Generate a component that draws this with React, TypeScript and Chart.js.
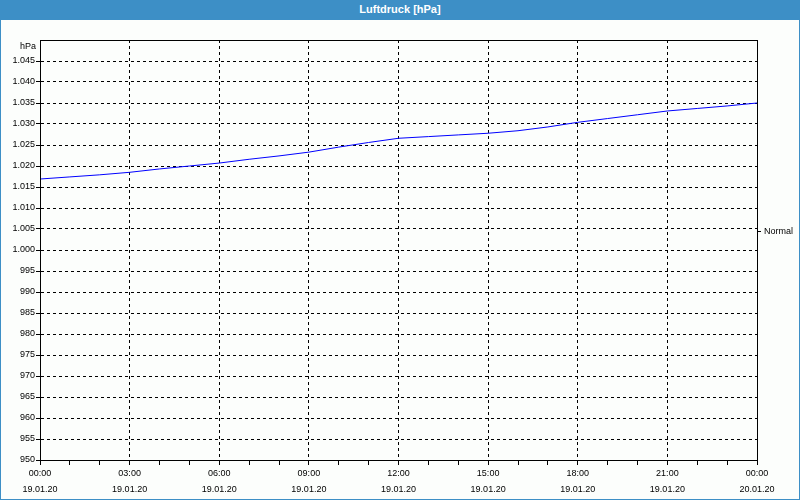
import React, { useEffect, useRef } from "react";
import { Chart, registerables } from "chart.js";

Chart.register(...registerables);

// hours since 19.01.20 00:00
const hours = [0, 1, 2, 3, 4, 5, 6, 7, 8, 9, 10, 11, 12, 13, 14, 15, 16, 17, 18, 19, 20, 21, 22, 23, 24];
const pressure = [
  1016.9, 1017.4, 1017.9, 1018.5, 1019.3, 1020.0, 1020.7, 1021.6, 1022.4, 1023.3, 1024.5, 1025.6, 1026.6,
  1027.0, 1027.4, 1027.8, 1028.4, 1029.3, 1030.4, 1031.3, 1032.2, 1033.1, 1033.7, 1034.3, 1035.0,
];
const timeLabels = ["00:00", "03:00", "06:00", "09:00", "12:00", "15:00", "18:00", "21:00", "00:00"];
const dateLabels = ["19.01.20", "19.01.20", "19.01.20", "19.01.20", "19.01.20", "19.01.20", "19.01.20", "19.01.20", "20.01.20"];
const yMin = 950;
const yMax = 1050;
const yStep = 5;
const unitLabel = "hPa";
const normalLevel = 1004.4;
const normalLabel = "Normal";
const titleText = "Luftdruck [hPa]";

const FONT = "'Liberation Sans', Arial, sans-serif";
const BLUE = "#3d8fc6";

function fmtY(v: number): string {
  const r = Math.round(v);
  if (r >= 1000) return "1." + String(r - 1000).padStart(3, "0");
  return String(r);
}

const framePlugin = {
  id: "frame",
  afterDraw(chart: any) {
    const { ctx, chartArea } = chart;
    const l = Math.round(chartArea.left) + 0.5;
    const t = Math.round(chartArea.top) + 0.5;
    const r = Math.round(chartArea.right) + 0.5;
    const b = Math.round(chartArea.bottom) + 0.5;
    ctx.save();
    ctx.strokeStyle = "#000";
    ctx.lineWidth = 1;
    ctx.setLineDash([]);
    ctx.beginPath();
    ctx.moveTo(l, b);
    ctx.lineTo(l, t);
    ctx.lineTo(r, t);
    ctx.lineTo(r, b);
    ctx.stroke();
    ctx.restore();
  },
};

export default function App() {
  const ref = useRef<HTMLCanvasElement | null>(null);

  useEffect(() => {
    if (!ref.current) return;
    const data = hours.map((h, i) => ({ x: h, y: pressure[i] }));
    const chart = new Chart(ref.current, {
      type: "line",
      data: {
        datasets: [
          {
            data,
            borderColor: "#0000ff",
            borderWidth: 1,
            pointRadius: 0,
            tension: 0,
            fill: false,
          },
        ],
      },
      options: {
        animation: false,
        responsive: false,
        maintainAspectRatio: false,
        layout: { padding: { top: 20, left: 0, right: 0, bottom: 0 } },
        plugins: { legend: { display: false }, tooltip: { enabled: false }, title: { display: false } },
        scales: {
          x: {
            type: "linear",
            min: 0,
            max: 24,
            afterFit: (s: any) => {
              s.height = 39;
            },
            ticks: {
              stepSize: 1,
              autoSkip: false,
              maxRotation: 0,
              color: "#000",
              padding: 1,
              font: { family: FONT, size: 9, lineHeight: 1.75 },
              callback: (v: any) => {
                const n = Math.round(Number(v));
                return n % 3 === 0 ? [timeLabels[n / 3], dateLabels[n / 3]] : "";
              },
            },
            grid: {
              color: (c: any) => (c.tick && Math.round(c.tick.value) % 3 === 0 ? "#000" : "rgba(0,0,0,0)"),
              tickColor: "#000",
              tickLength: 5,
              lineWidth: 1,
            },
            border: { display: true, color: "#000", dash: [3, 3] },
          },
          y: {
            type: "linear",
            position: "left",
            min: yMin,
            max: yMax,
            afterFit: (s: any) => {
              s.width = 39;
            },
            ticks: {
              stepSize: yStep,
              autoSkip: false,
              color: "#000",
              padding: 1,
              font: { family: FONT, size: 9 },
              callback: (v: any) => (Math.round(Number(v)) === yMax ? "" : fmtY(Number(v))),
            },
            grid: {
              color: (c: any) => (c.tick && Math.round(c.tick.value) === yMax ? "rgba(0,0,0,0)" : "#000"),
              tickColor: (c: any) => (c.tick && Math.round(c.tick.value) === yMax ? "rgba(0,0,0,0)" : "#000"),
              tickLength: 4,
              lineWidth: 1,
            },
            border: { display: true, color: "#000", dash: [3, 3] },
          },
          y2: {
            type: "linear",
            position: "right",
            min: yMin,
            max: yMax,
            afterFit: (s: any) => {
              s.width = 42;
            },
            afterBuildTicks: (s: any) => {
              s.ticks = [{ value: normalLevel }];
            },
            ticks: {
              autoSkip: false,
              color: "#000",
              padding: 3,
              font: { family: FONT, size: 9 },
              callback: () => normalLabel,
            },
            grid: { drawOnChartArea: false, tickColor: "#000", tickLength: 4 },
            border: { display: true, color: "#000" },
          },
        },
      },
      plugins: [framePlugin],
    } as any);
    return () => chart.destroy();
  }, []);

  return (
    <div style={{ position: "absolute", left: 0, top: 0, width: 800, height: 500, background: BLUE }}>
      <div
        style={{
          position: "absolute",
          left: 0,
          top: 0,
          width: 800,
          height: 20,
          lineHeight: "19px",
          textAlign: "center",
          color: "#fff",
          fontFamily: FONT,
          fontWeight: "bold",
          fontSize: 11,
        }}
      >
        {titleText}
      </div>
      <div style={{ position: "absolute", left: 1, top: 20, width: 798, height: 479, background: "#fcfefc" }}>
        <canvas ref={ref} width={798} height={479} style={{ display: "block", width: 798, height: 479 }} />
        <span
          style={{
            position: "absolute",
            left: 0,
            top: 20,
            width: 35,
            textAlign: "right",
            fontFamily: FONT,
            fontSize: 9,
            lineHeight: "12px",
            color: "#000",
          }}
        >
          {unitLabel}
        </span>
      </div>
    </div>
  );
}
